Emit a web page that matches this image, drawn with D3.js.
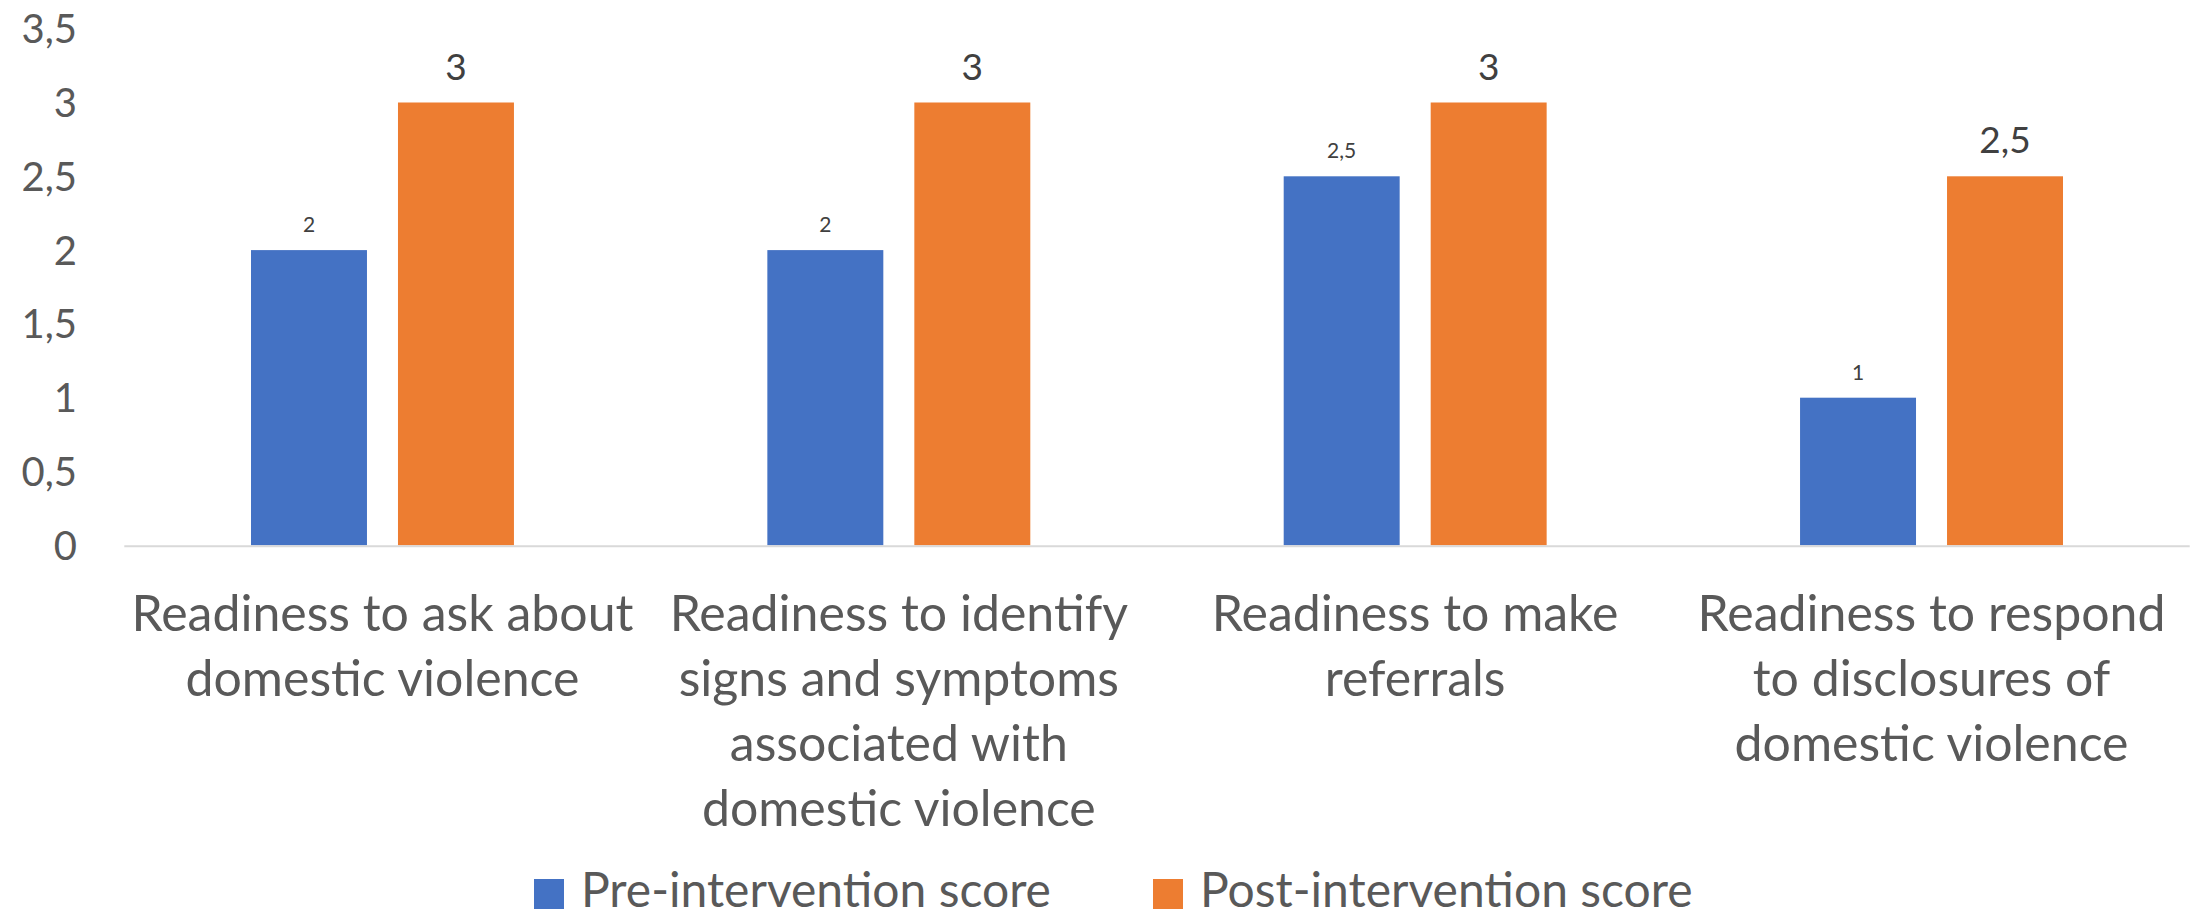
<!DOCTYPE html>
<html>
<head>
<meta charset="utf-8">
<script src="https://cdn.jsdelivr.net/npm/d3@7"></script>
<style>
    html, body { margin: 0; padding: 0; background: #fff; }
    svg { display: block; font-family: Lato, "Open Sans", sans-serif; }
</style>
</head>
<body>
<div id="chart"></div>
<script>
const categories = [
    ["Readiness to ask about", "domestic violence"],
    ["Readiness to identify", "signs and symptoms", "associated with", "domestic violence"],
    ["Readiness to make", "referrals"],
    ["Readiness to respond", "to disclosures of", "domestic violence"]
];
const series = ["Pre-intervention score", "Post-intervention score"];
const preScores = [2, 2, 2.5, 1];
const postScores = [3, 3, 3, 2.5];
const yTicks = [0, 0.5, 1, 1.5, 2, 2.5, 3, 3.5];
const colors = ["#4472C4", "#ED7D31"];

const svgWidth = 2191;
const svgHeight = 918;

const svg = d3.select("#chart")
    .append("svg")
    .attr("width", svgWidth)
    .attr("height", svgHeight);

const fmt = d => String(d).replace(".", ",");

const x0 = d3.scaleBand().domain(d3.range(categories.length)).range([124.3, 2189.7]);
const x1 = d3.scaleBand().domain([0, 1]).range([0, x0.bandwidth()])
    .paddingInner(0.211).paddingOuter(0.862);
const y = d3.scaleLinear().domain([0, 3.5]).range([545.3, 28.7]);

// y tick labels (no axis line, no ticks)
svg.append("g").selectAll("text").data(yTicks).enter().append("text")
    .attr("x", 77)
    .attr("y", d => y(d))
    .attr("dy", "0.36em")
    .attr("text-anchor", "end")
    .attr("font-size", 40)
    .attr("fill", "#595959")
    .text(fmt);

const rows = categories.map((c, i) => ({ i, values: [preScores[i], postScores[i]] }));

const groups = svg.append("g").selectAll("g").data(rows).enter().append("g")
    .attr("transform", d => `translate(${x0(d.i)},0)`);

groups.selectAll("rect").data(d => d.values.map((v, s) => ({ v, s }))).enter().append("rect")
    .attr("x", d => x1(d.s))
    .attr("y", d => y(d.v))
    .attr("width", x1.bandwidth())
    .attr("height", d => y(0) - y(d.v))
    .attr("fill", d => colors[d.s]);

// data labels: small for pre, larger for post
groups.selectAll("text.val").data(d => d.values.map((v, s) => ({ v, s }))).enter().append("text")
    .attr("class", "val")
    .attr("x", d => x1(d.s) + x1.bandwidth() / 2)
    .attr("y", d => y(d.v) - (d.s === 0 ? 18 : 23))
    .attr("text-anchor", "middle")
    .attr("font-size", d => d.s === 0 ? 21 : 37)
    .attr("fill", "#404040")
    .text(d => fmt(d.v));

// baseline
svg.append("line")
    .attr("x1", x0.range()[0]).attr("x2", x0.range()[1])
    .attr("y1", y(0) + 1).attr("y2", y(0) + 1)
    .attr("stroke", "#D9D9D9")
    .attr("stroke-width", 2);

// category labels
const catLabels = svg.append("g").selectAll("text").data(categories).enter().append("text")
    .attr("text-anchor", "middle")
    .attr("font-size", 50)
    .attr("fill", "#595959");

catLabels.selectAll("tspan").data((d, i) => d.map(line => ({ line, i }))).enter().append("tspan")
    .attr("x", d => x0(d.i) + x0.bandwidth() / 2)
    .attr("y", (d, j) => 631 + j * 65)
    .text(d => d.line);

// legend
const legendX = [534, 1153];
const legend = svg.append("g").selectAll("g").data(series).enter().append("g")
    .attr("transform", (d, i) => `translate(${legendX[i]},879)`);

legend.append("rect")
    .attr("width", 30)
    .attr("height", 30)
    .attr("fill", (d, i) => colors[i]);

legend.append("text")
    .attr("x", 47)
    .attr("y", 28)
    .attr("font-size", 48)
    .attr("fill", "#595959")
    .text(d => d);
</script>
</body>
</html>
